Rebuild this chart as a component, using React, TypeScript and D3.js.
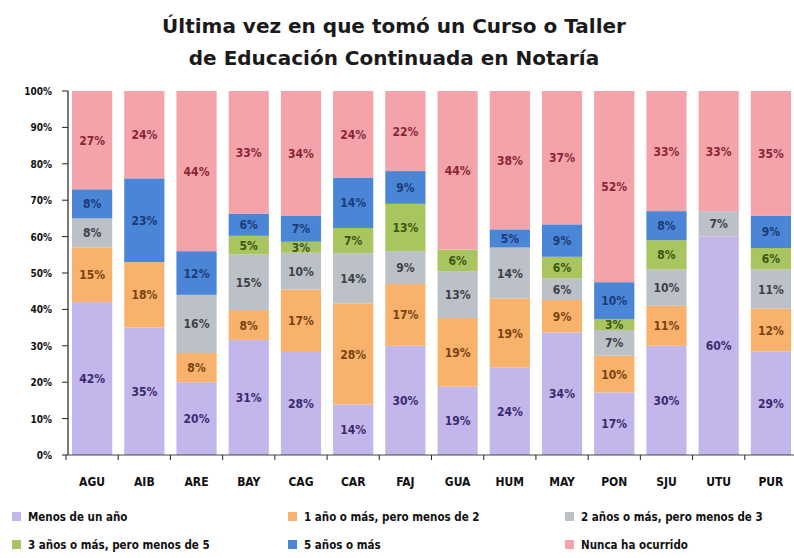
import React from "react";
import * as d3 from "d3";

const categories = ["AGU", "AIB", "ARE", "BAY", "CAG", "CAR", "FAJ", "GUA", "HUM", "MAY", "PON", "SJU", "UTU", "PUR"];
const seriesNames = [
  "Menos de un año",
  "1 año o más, pero menos de 2",
  "2 años o más, pero menos de 3",
  "3 años o más, pero menos de 5",
  "5 años o más",
  "Nunca ha ocurrido",
];
const menosUnAno = [42, 35, 20, 31, 28, 14, 30, 19, 24, 34, 17, 30, 60, 29];
const unoADos = [15, 18, 8, 8, 17, 28, 17, 19, 19, 9, 10, 11, 0, 12];
const dosATres = [8, 0, 16, 15, 10, 14, 9, 13, 14, 6, 7, 10, 7, 11];
const tresACinco = [0, 0, 0, 5, 3, 7, 13, 6, 0, 6, 3, 8, 0, 6];
const cincoOMas = [8, 23, 12, 6, 7, 14, 9, 0, 5, 9, 10, 8, 0, 9];
const nunca = [27, 24, 44, 33, 34, 24, 22, 44, 38, 37, 52, 33, 33, 35];
const yTicks = [0, 0.1, 0.2, 0.3, 0.4, 0.5, 0.6, 0.7, 0.8, 0.9, 1];

const colors = ["#c2b6ea", "#f8b26c", "#bcc0c7", "#a9c55f", "#4b85d5", "#f5a3ab"];
const textColors = ["#3b2a6e", "#7a4210", "#3e4048", "#3a5812", "#1b3a78", "#8a2634"];

export default function App() {
  const W = 794, H = 558;
  const left = 66, right = 797, top = 91, bottom = 455;
  const allSeries = [menosUnAno, unoADos, dosATres, tresACinco, cincoOMas, nunca];
  const rows = categories.map((c, i) => {
    const r: any = { cat: c };
    seriesNames.forEach((s, k) => (r[s] = allSeries[k][i]));
    return r;
  });
  const stacked = d3.stack<any>().keys(seriesNames).offset(d3.stackOffsetExpand)(rows);
  const x = d3.scaleBand().domain(categories).range([left, right]).paddingInner(0.23).paddingOuter(0.115);
  const y = d3.scaleLinear().domain([0, 1]).range([bottom, top]);
  const step = x.step();
  const font = "'DejaVu Sans Condensed', 'DejaVu Sans', sans-serif";

  return (
    <svg width={W} height={H} style={{ position: "absolute", left: 0, top: 0, background: "#fff" }} fontFamily={font}>
      <text x={394} y={33} textAnchor="middle" fontSize={20} fontWeight="bold" fill="#1a1a1a" fontFamily="'DejaVu Sans', sans-serif">Última vez en que tomó un Curso o Taller</text>
      <text x={394} y={65} textAnchor="middle" fontSize={20} fontWeight="bold" fill="#1a1a1a" fontFamily="'DejaVu Sans', sans-serif">de Educación Continuada en Notaría</text>
      {stacked.map((s, k) => (
        <g key={k}>
          {s.map((d, i) => {
            const v = allSeries[k][i];
            if (!v) return null;
            const y0 = y(d[1]), y1 = y(d[0]);
            const cx = (x(categories[i]) as number) + x.bandwidth() / 2;
            return (
              <g key={i}>
                <rect x={x(categories[i])} y={y0} width={x.bandwidth()} height={y1 - y0} fill={colors[k]} />
                <text x={cx} y={(y0 + y1) / 2 + 4.5} textAnchor="middle" fontSize={12} fontWeight="bold" fill={textColors[k]}>{v}%</text>
              </g>
            );
          })}
        </g>
      ))}
      <line x1={68} x2={68} y1={top} y2={bottom} stroke="#222" strokeWidth={1.2} />
      <line x1={68} x2={W} y1={bottom} y2={bottom} stroke="#444" strokeWidth={1} />
      {yTicks.map((t) => (
        <g key={t}>
          <line x1={62} x2={68} y1={y(t)} y2={y(t)} stroke="#222" />
          <text x={52} y={y(t) + 4} textAnchor="end" fontSize={10} fontWeight="bold" fill="#111">{Math.round(t * 100)}%</text>
        </g>
      ))}
      {categories.map((c) => (
        <g key={c}>
          <line x1={(x(c) as number) - (step - x.bandwidth()) / 2} x2={(x(c) as number) - (step - x.bandwidth()) / 2} y1={bottom} y2={bottom + 5} stroke="#222" />
          <text x={(x(c) as number) + x.bandwidth() / 2} y={486} textAnchor="middle" fontSize={12} fontWeight="bold" fill="#111">{c}</text>
        </g>
      ))}
      {seriesNames.map((s, k) => {
        const col = k % 3, row = Math.floor(k / 3);
        const lx = [12, 288, 565][col];
        const ly = [521, 549][row];
        return (
          <g key={s}>
            <rect x={lx} y={ly - 9} width={9} height={9} fill={colors[k]} />
            <text x={lx + 16} y={ly} fontSize={11.5} fontWeight="bold" fill="#111">{s}</text>
          </g>
        );
      })}
    </svg>
  );
}
